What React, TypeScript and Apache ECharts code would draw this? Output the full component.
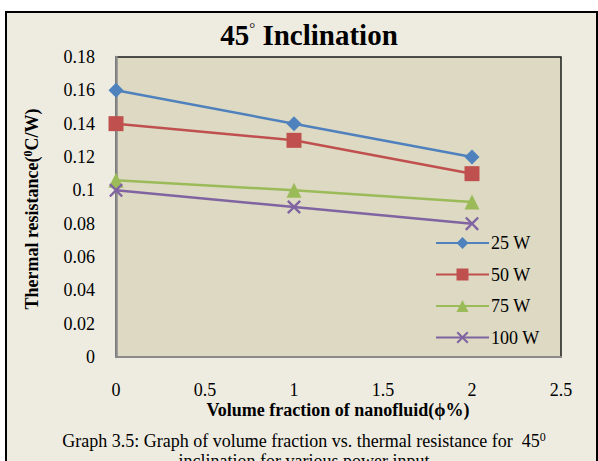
import React, { useEffect, useRef } from "react";
import * as echarts from "echarts";

const xValues = [0, 1, 2];
const seriesNames = ["25 W", "50 W", "75 W", "100 W"];
const w25 = [0.16, 0.14, 0.12];
const w50 = [0.14, 0.13, 0.11];
const w75 = [0.106, 0.1, 0.093];
const w100 = [0.1, 0.09, 0.08];
const colors = ["#4F81BD", "#C0504D", "#9BBB59", "#8064A2"];
const symbols = [
  "diamond",
  "rect",
  "triangle",
  "path://M0,1.2 L1.2,0 L5,3.8 L8.8,0 L10,1.2 L6.2,5 L10,8.8 L8.8,10 L5,6.2 L1.2,10 L0,8.8 L3.8,5 Z",
];
const symbolSizes = [15, 15, 15, 14];

const FONT = "'Liberation Serif', 'Times New Roman', serif";

export default function App() {
  const ref = useRef<HTMLDivElement>(null);
  useEffect(() => {
    if (!ref.current) return;
    const chart = echarts.init(ref.current, undefined, { renderer: "svg" });
    const all = [w25, w50, w75, w100];
    chart.setOption({
      animation: false,
      backgroundColor: "#FFFFFF",
      graphic: [
        {
          type: "rect",
          shape: { x: 6, y: 12, width: 591, height: 470 },
          style: { fill: "#EEECE1", stroke: "#000", lineWidth: 2 },
          z: -10,
          silent: true,
        },
        {
          type: "text",
          x: 309,
          y: 35,
          style: {
            text: "{t|45}{d|°}{t| Inclination}",
            align: "center",
            verticalAlign: "middle",
            rich: {
              t: { fontFamily: FONT, fontSize: 29, fontWeight: "bold", fill: "#000" },
              d: { fontFamily: FONT, fontSize: 15, fill: "#000", padding: [0, 0, 14, 0] },
            },
          },
        },
        {
          type: "text",
          x: 32,
          y: 209,
          rotation: Math.PI / 2,
          style: {
            text: "{a|Thermal resistance(}{s|0}{a|C/W)}",
            align: "center",
            verticalAlign: "middle",
            rich: {
              a: { fontFamily: FONT, fontSize: 18, fontWeight: "bold", fill: "#000" },
              s: { fontFamily: FONT, fontSize: 12, fontWeight: "bold", fill: "#000", padding: [0, 0, 9, 0] },
            },
          },
        },
        {
          type: "text",
          x: 338,
          y: 410,
          style: {
            text: "Volume fraction of nanofluid(ϕ%)",
            font: `bold 18px ${FONT}`,
            fill: "#000",
            align: "center",
            verticalAlign: "middle",
          },
        },
        {
          type: "text",
          x: 304,
          y: 441,
          style: {
            text: "{a|Graph 3.5: Graph of volume fraction vs. thermal resistance for  45}{s|0}",
            align: "center",
            verticalAlign: "middle",
            rich: {
              a: { fontFamily: FONT, fontSize: 18, fill: "#000" },
              s: { fontFamily: FONT, fontSize: 12, fill: "#000", padding: [0, 0, 9, 0] },
            },
          },
        },
        {
          type: "text",
          x: 304,
          y: 461,
          style: {
            text: "inclination for various power input",
            font: `18px ${FONT}`,
            fill: "#000",
            align: "center",
            verticalAlign: "middle",
          },
        },
      ],
      grid: {
        left: 116,
        top: 57,
        right: 37,
        bottom: 104,
        show: true,
        backgroundColor: "#DDD9C3",
        borderColor: "#1a1a1a",
        borderWidth: 1.5,
      },
      legend: {
        orient: "vertical",
        left: 435,
        top: 234,
        padding: 0,
        itemWidth: 53,
        itemHeight: 15,
        itemGap: 13.5,
        data: seriesNames,
        textStyle: { fontFamily: FONT, fontSize: 18, color: "#000", padding: [0, 0, 0, -3] },
      },
      xAxis: {
        type: "value",
        min: 0,
        max: 2.5,
        interval: 0.5,
        axisLine: { show: true, lineStyle: { color: "#8a8a8a", width: 2 } },
        axisTick: { show: false },
        splitLine: { show: false },
        axisLabel: { margin: 24, fontFamily: FONT, fontSize: 18, color: "#000" },
      },
      yAxis: {
        type: "value",
        min: 0,
        max: 0.18,
        interval: 0.02,
        axisLine: { show: true, lineStyle: { color: "#8a8a8a", width: 2.5 } },
        axisTick: { show: false },
        splitLine: { show: false },
        axisLabel: {
          margin: 21,
          fontFamily: FONT,
          fontSize: 18,
          color: "#000",
          formatter: (v: number) => String(Math.round(v * 100) / 100),
        },
      },
      series: seriesNames.map((name, i) => ({
        name,
        type: "line",
        data: xValues.map((x, j) => [x, all[i][j]]),
        symbol: symbols[i],
        symbolSize: symbolSizes[i],
        showAllSymbol: true,
        lineStyle: { color: colors[i], width: 2.5 },
        itemStyle: { color: colors[i] },
        clip: false,
      })),
    });
    return () => chart.dispose();
  }, []);
  return (
    <div
      ref={ref}
      style={{ position: "fixed", left: 0, top: 0, width: 598, height: 461 }}
    />
  );
}
